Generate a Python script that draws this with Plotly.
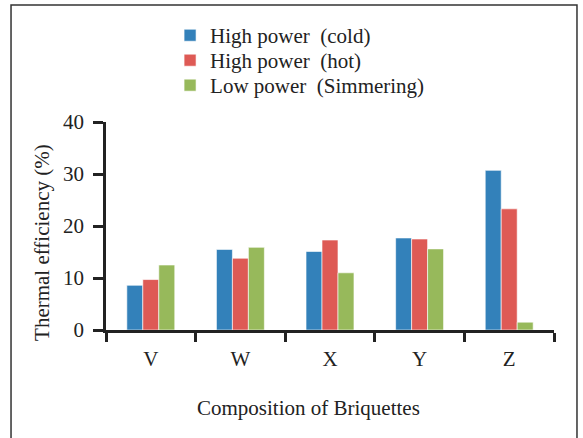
import plotly.graph_objects as go

categories = ["V", "W", "X", "Y", "Z"]
high_cold = [8.6, 15.5, 15.1, 17.7, 30.7]
high_hot = [9.7, 13.8, 17.3, 17.5, 23.3]
low_simmer = [12.5, 15.9, 11.0, 15.6, 1.5]

series_names = ["High power\u00a0\u00a0(cold)", "High power\u00a0\u00a0(hot)", "Low power\u00a0\u00a0(Simmering)"]
colors = ["#3381BA", "#DE5A55", "#97B95B"]
legend_ids = ["legend", "legend2", "legend3"]
x_title = "Composition of Briquettes"
y_title = "Thermal efficiency (%)"

fig = go.Figure()
for name, vals, col, lg in zip(series_names, [high_cold, high_hot, low_simmer], colors, legend_ids):
    fig.add_trace(go.Bar(x=categories, y=vals, name=name, marker_color=col, legend=lg,
                         marker_line=dict(color="rgba(255,255,255,0.6)", width=1)))

font_family = "Liberation Serif"
fs = 21
tfont = dict(family=font_family, size=fs, color="#222")
leg_common = dict(x=0.143, xanchor="left", yanchor="top", font=tfont,
                  bgcolor="rgba(0,0,0,0)")
fig.update_layout(
    width=583, height=438,
    margin=dict(l=106, r=29, t=122, b=108),
    paper_bgcolor="white", plot_bgcolor="white",
    barmode="group", bargap=0.465, bargroupgap=0,
    font=tfont,
    showlegend=True,
    legend=dict(y=1.514, **leg_common),
    legend2=dict(y=1.394, **leg_common),
    legend3=dict(y=1.274, **leg_common),
    xaxis=dict(showline=True, linecolor="#222", linewidth=2.5,
               ticks="outside", tickson="boundaries", ticklen=9, tickwidth=2.5, tickcolor="#222",
               ticklabelstandoff=8, tickfont=tfont,
               range=[-0.5, 4.5], fixedrange=True),
    yaxis=dict(showline=True, linecolor="#222", linewidth=2.5,
               range=[0, 40], tickvals=[0, 10, 20, 30, 40],
               ticks="outside", ticklen=10, tickwidth=2.5, tickcolor="#222",
               ticklabelstandoff=5,
               showgrid=False, zeroline=False, tickfont=tfont),
    annotations=[
        dict(text=x_title, xref="paper", yref="paper", x=0.453, y=-0.375,
             xanchor="center", yanchor="middle", showarrow=False, font=tfont),
        dict(text=y_title, xref="paper", yref="paper", x=-0.143, y=0.423,
             xanchor="center", yanchor="middle", textangle=-90, showarrow=False, font=tfont),
    ],
    shapes=[dict(type="rect", xref="paper", yref="paper",
                 x0=-0.212, x1=1.0513, y0=-0.56, y1=1.5625,
                 line=dict(color="#333", width=1.5), layer="below")],
)

fig.write_html("out.html", config={"displayModeBar": False},
               post_script="document.body.style.margin='0';")
